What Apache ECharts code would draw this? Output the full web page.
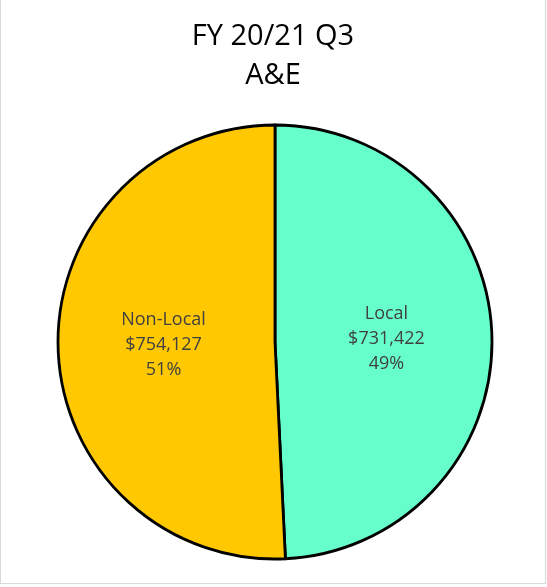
<!DOCTYPE html>
<html>
<head>
<meta charset="utf-8">
<script src="https://cdn.jsdelivr.net/npm/echarts@6/dist/echarts.min.js"></script>
<style>
  body { margin: 0; background: #fff; }
  #frame { position: absolute; left: 0; top: -1px; width: 544px; height: 583px; border: 1px solid #d9d9d9; }
  #chart { width: 544px; height: 584px; }
</style>
</head>
<body>
<div id="frame"><div id="chart" style="margin-top: 1px"></div></div>
<script>
// 数据
const categories = ['Local', 'Non-Local']
const values = [731422, 754127]
const colors = ['#66FFCC', '#FFC800']

let chartDom = document.getElementById('chart')
let myChart = echarts.init(chartDom)

let pieData = categories.map((name, i) => ({
  name: name,
  value: values[i],
  itemStyle: { color: colors[i] }
}))

let option = {
  animation: false,
  title: {
    text: 'FY 20/21 Q3\nA&E',
    left: 'center',
    top: 11,
    textStyle: {
      fontFamily: 'Open Sans',
      fontSize: 29,
      fontWeight: 'normal',
      color: '#000',
      lineHeight: 39
    }
  },
  series: [
    {
      type: 'pie',
      center: [274, 341],
      radius: 217,
      startAngle: 90,
      clockwise: true,
      data: pieData,
      itemStyle: {
        borderColor: '#000',
        borderWidth: 2.8
      },
      label: {
        position: 'inside',
        color: '#404040',
        fontFamily: 'Open Sans',
        fontSize: 18,
        lineHeight: 25,
        formatter: function (p) {
          return p.name + '\n$' + p.value.toLocaleString('en-US') + '\n' + Math.round(p.percent) + '%'
        }
      },
      labelLine: { show: false },
      emphasis: { disabled: true }
    }
  ]
}
myChart.setOption(option)
</script>
</body>
</html>
